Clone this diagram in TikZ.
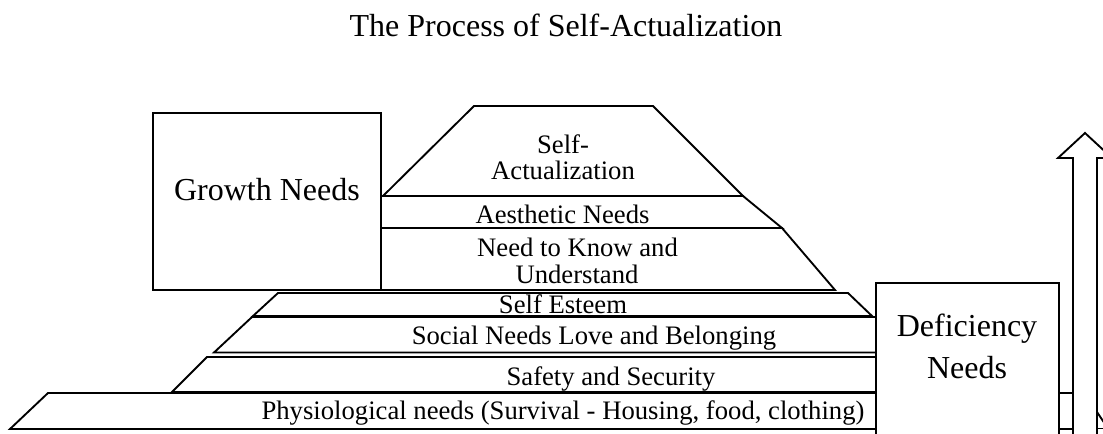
\documentclass[tikz,border=0pt]{standalone}
\usepackage{fontspec}
\setmainfont{Liberation Serif}
\begin{document}
\begin{tikzpicture}[x=0.75pt,y=-0.75pt,
  shp/.style={draw=black, line width=1.4pt, fill=white, line join=miter},
  ln/.style={draw=black, line width=1.4pt},
  big/.style={font=\fontsize{24}{28}\selectfont, anchor=base, inner sep=0pt},
  small/.style={font=\fontsize{20}{24}\selectfont, anchor=base, inner sep=0pt}]
\useasboundingbox (0,0) rectangle (1103,433);
\clip (0,0) rectangle (1103,433);
% title
\node[big] (title) at (566,36) {The Process of Self-Actualization};
% pyramid bands
\draw[shp] (48,393) -- (1085,393) -- (1085,429) -- (10,429) -- cycle;
\draw[shp] (207,357) -- (900,357) -- (900,392) -- (172,392) -- cycle;
\draw[shp] (252,317) -- (900,317) -- (900,352.5) -- (214,352.5) -- cycle;
\draw[shp] (278,293) -- (848,293) -- (872,316) -- (253,316) -- cycle;
\draw[shp] (360,228) -- (782,228) -- (835,290) -- (360,290) -- cycle;
\draw[shp] (360,196) -- (743,196) -- (782,228) -- (360,228) -- cycle;
\draw[shp] (383,196) -- (474,106) -- (653,106) -- (743,196) -- cycle;
% growth box
\draw[shp] (153,113) rectangle (381,290);
% deficiency box
\draw[shp] (876,283) rectangle (1059,445);
% arrow
\draw[shp] (1073,445) -- (1073,158) -- (1058,158) -- (1085,133) -- (1112,158) -- (1097,158) -- (1097,445);
\coordinate (e1) at (1097,428.5);
\coordinate (e2) at (1106,428.5);
\coordinate (e3) at (1097,412);
\coordinate (e4) at (1105,424);
\draw[ln] (e1) -- (e2);
\draw[ln] (e3) -- (e4);
% labels
\node[big] (growth) at (267,200) {Growth Needs};
\node[big] (def1) at (967,336.5) {Deficiency};
\node[big] (def2) at (967,378.3) {Needs};
\node[small] (sa1) at (563,153.3) {Self-};
\node[small] (sa2) at (563,179.3) {Actualization};
\node[small] (aes) at (562.5,223.3) {Aesthetic Needs};
\node[small] (know1) at (577.5,256.7) {Need to Know and};
\node[small] (know2) at (577,283.3) {Understand};
\node[small] (est) at (563,313.3) {Self Esteem};
\node[small] (soc) at (594,344) {Social Needs Love and Belonging};
\node[small] (saf) at (611,385) {Safety and Security};
\node[small] (phy) at (563,419.3) {Physiological needs (Survival - Housing, food, clothing)};
\end{tikzpicture}
\end{document}
